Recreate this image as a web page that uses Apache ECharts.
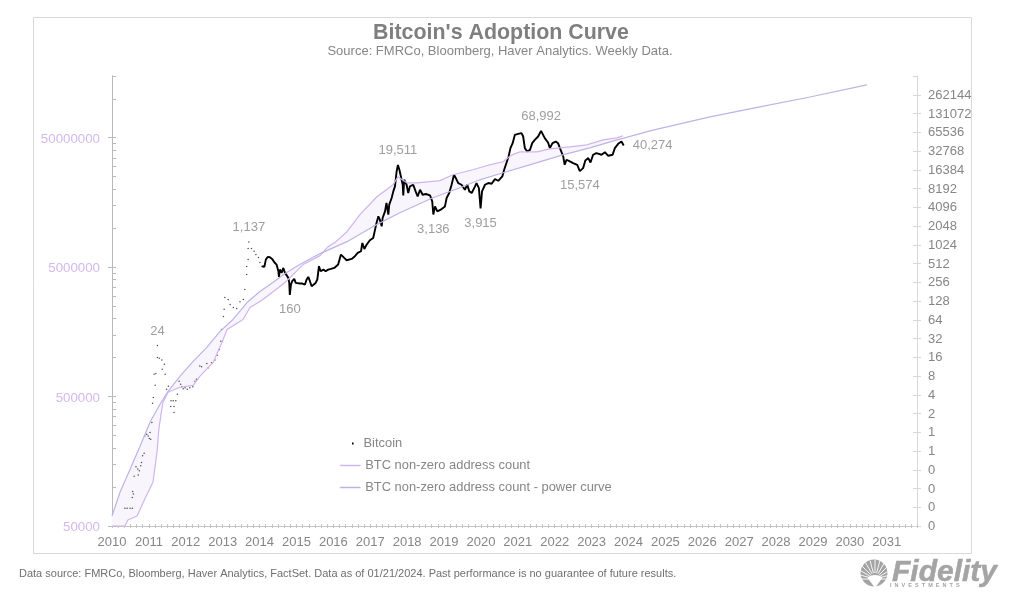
<!DOCTYPE html>
<html>
<head>
<meta charset="utf-8">
<title>Bitcoin's Adoption Curve</title>
<style>
html, body { margin: 0; padding: 0; background: #fff; }
#main { width: 1010px; height: 600px; }
</style>
<script src="https://cdn.jsdelivr.net/npm/echarts@6/dist/echarts.min.js"></script>
</head>
<body>
<div id="main"></div>
<script>
// values: [decimal year on the drawn axis, value]
var powerCurve = [[2010.00,59700],[2010.22,91500],[2010.49,137500],[2010.76,207000],[2011.03,317000],[2011.30,436000],[2011.52,549000],[2011.84,717000],[2012.20,935000],[2012.57,1200000],[2012.93,1594000],[2013.28,1972000],[2013.66,2666000],[2014.01,3243000],[2014.36,3803000],[2014.69,4465000],[2015.09,5236000],[2015.64,6367000],[2016.37,7870000],[2017.07,10280000],[2017.80,13180000],[2018.70,17200000],[2019.43,20560000],[2019.97,23660000],[2020.60,26800000],[2021.41,31450000],[2022.22,36900000],[2022.95,41800000],[2023.69,48200000],[2023.85,49400000],[2024.58,56500000],[2025.39,64000000],[2026.21,72400000],[2027.56,86500000],[2028.92,103300000],[2030.46,127900000]];

var addressCount = [[2010.00,50000],[2010.35,50000],[2010.43,55600],[2010.68,59700],[2010.89,80800],[2011.11,109000],[2011.22,186000],[2011.27,280000],[2011.38,452000],[2011.52,540000],[2011.84,590000],[2012.20,611000],[2012.38,717000],[2012.74,919000],[2012.98,1311000],[2013.12,1652000],[2013.55,1972000],[2013.74,2438000],[2014.01,2716000],[2014.20,2965000],[2014.69,3803000],[2015.18,5236000],[2015.64,6140000],[2015.83,7080000],[2016.04,7740000],[2016.37,9400000],[2016.72,12730000],[2017.18,17500000],[2017.62,21700000],[2017.75,25000000],[2018.00,22400000],[2018.27,22400000],[2018.89,23300000],[2019.24,25900000],[2019.78,28300000],[2020.24,30900000],[2020.60,32600000],[2020.84,36900000],[2021.06,38900000],[2021.52,38900000],[2021.87,41000000],[2022.41,42500000],[2022.87,44000000],[2023.31,48200000],[2023.69,49900000],[2023.85,51800000]];

var btcDots = [[2010.35,0.06],[2010.41,0.06],[2010.49,0.06],[2010.55,0.06],[2010.55,0.09],[2010.56,0.112],[2010.58,0.102],[2010.60,0.196],[2010.65,0.279],[2010.70,0.256],[2010.71,0.205],[2010.74,0.24],[2010.78,0.289],[2010.80,0.328],[2010.83,0.418],[2010.87,0.462],[2010.89,0.874],[2010.94,0.93],[2010.98,0.874],[2011.01,0.794],[2011.03,0.99],[2011.05,0.774],[2011.08,1.43],[2011.10,2.92],[2011.12,3.6],[2011.14,8.5],[2011.17,5.67],[2011.19,8.8],[2011.23,24.8],[2011.23,15.8],[2011.28,15.4],[2011.35,14.4],[2011.36,10.3],[2011.42,12.3],[2011.44,8.5],[2011.48,4.9],[2011.53,5.5],[2011.59,2.6],[2011.60,3.2],[2011.66,3.2],[2011.68,2.6],[2011.68,2.07],[2011.73,3.2],[2011.77,4.08],[2011.82,6.6],[2011.86,5.9],[2011.89,5.4],[2011.93,5.0],[2011.98,5.2],[2012.04,4.9],[2012.11,5.2],[2012.19,5.4],[2012.25,6.6],[2012.29,7.1],[2012.38,11.6],[2012.43,11.3],[2012.57,12.7],[2012.61,10.9],[2012.70,13.1],[2012.79,14.4],[2012.85,17.2],[2012.91,21.4],[2012.95,29],[2012.97,44.6],[2013.02,72],[2013.04,94],[2013.06,146],[2013.15,135],[2013.20,112],[2013.29,101],[2013.38,97],[2013.47,125],[2013.56,135],[2013.60,195],[2013.65,340],[2013.65,458],[2013.69,592],[2013.69,891],[2013.71,1137],[2013.78,891],[2013.85,803],[2013.90,714],[2013.97,639],[2014.01,530],[2014.06,458]];

var btcLine = [[2014.07,463],[2014.13,452],[2014.17,592],[2014.22,653],[2014.28,645],[2014.34,607],[2014.40,536],[2014.46,492],[2014.51,385],[2014.525,312],[2014.55,409],[2014.60,362],[2014.64,435],[2014.69,362],[2014.73,385],[2014.78,301],[2014.805,250],[2014.82,160],[2014.85,235],[2014.885,266],[2014.94,290],[2014.98,250],[2015.03,256],[2015.095,244],[2015.16,244],[2015.23,235],[2015.275,283],[2015.32,312],[2015.365,266],[2015.41,221],[2015.455,235],[2015.52,250],[2015.565,283],[2015.61,463],[2015.655,385],[2015.73,409],[2015.79,385],[2015.86,409],[2015.935,419],[2016.025,435],[2016.13,492],[2016.205,712],[2016.25,757],[2016.295,630],[2016.36,578],[2016.405,578],[2016.495,607],[2016.585,670],[2016.66,757],[2016.75,805],[2016.785,1095],[2016.84,877],[2016.90,1024],[2016.945,992],[2016.99,1208],[2017.08,1317],[2017.13,1790],[2017.17,2290],[2017.22,2929],[2017.26,2590],[2017.31,2025],[2017.335,2753],[2017.40,3522],[2017.44,4791],[2017.49,3115],[2017.515,4505],[2017.58,5760],[2017.625,7368],[2017.67,8860],[2017.715,15400],[2017.75,19511],[2017.79,16380],[2017.82,13630],[2017.85,11330],[2017.88,9410],[2017.895,6350],[2017.92,11330],[2017.985,9410],[2018.03,6930],[2018.075,8860],[2018.165,9410],[2018.23,7368],[2018.285,6120],[2018.35,7830],[2018.42,6510],[2018.51,6680],[2018.62,6350],[2018.68,5090],[2018.71,3136],[2018.755,4230],[2018.82,3522],[2018.91,3740],[2019.025,4230],[2019.07,5760],[2019.14,6930],[2019.205,9410],[2019.27,13630],[2019.32,12040],[2019.385,10020],[2019.475,9410],[2019.565,7830],[2019.63,9410],[2019.685,7368],[2019.75,6930],[2019.84,8860],[2019.88,10020],[2019.945,8320],[2019.99,3915],[2020.03,7360],[2020.11,9410],[2020.20,10020],[2020.29,9770],[2020.38,11600],[2020.47,10900],[2020.58,12800],[2020.63,16380],[2020.69,20950],[2020.75,26780],[2020.80,36400],[2020.86,43800],[2020.92,59600],[2021.01,61800],[2021.10,63300],[2021.145,56000],[2021.19,36400],[2021.255,32200],[2021.33,34200],[2021.39,43800],[2021.46,49500],[2021.55,56000],[2021.63,68992],[2021.67,67400],[2021.73,52700],[2021.82,44900],[2021.87,36400],[2021.94,43800],[2022.03,46500],[2022.09,43800],[2022.16,34200],[2022.23,26780],[2022.27,19700],[2022.32,23700],[2022.41,22300],[2022.50,20950],[2022.61,19700],[2022.68,15574],[2022.77,17400],[2022.83,23100],[2022.91,25200],[2022.97,21450],[2023.04,28500],[2023.13,30300],[2023.27,28500],[2023.36,31400],[2023.45,27450],[2023.57,28500],[2023.63,36400],[2023.72,42700],[2023.81,46500],[2023.87,40274]];

var peakYears = [2011.23, 2013.71, 2014.82, 2017.75, 2018.71, 2019.99, 2021.63, 2022.68, 2023.87];
var peakPrices = [24, 1137, 160, 19511, 3136, 3915, 68992, 15574, 40274];
var peakSides = ['top', 'top', 'bottom', 'top', 'bottom', 'bottom', 'top', 'bottom', 'right'];

var addressLabels = [50000, 500000, 5000000, 50000000];
var addressTicks = [];
addressLabels.forEach(function (base) {
    for (var k = 1; k <= 10; k++) {
        if (base * k <= 150000000) addressTicks.push(base * k);
    }
});

var FONT = 'Liberation Sans';
var GREY = '#868686';
var LILAC_LABEL = '#d3b9ec';
var ADDRESS_COLOR = '#d0b4ee';
var POWER_COLOR = '#bfb2e6';
var LOGO_GREY = '#a4a4a4';

function addressAxis(inside) {
    return {
        type: 'log', logBase: 10, min: 50000, max: 150000000, position: 'left',
        splitLine: { show: false },
        axisLine: { show: true, onZero: false, lineStyle: { color: '#b9b9b9', width: 1 } },
        axisTick: {
            show: true, inside: inside, length: 4,
            customValues: inside ? addressTicks : addressLabels,
            lineStyle: { color: '#b9b9b9' }
        },
        axisLabel: {
            show: !inside, customValues: addressLabels, margin: 12,
            verticalAlign: 'top', lineHeight: 3,
            color: LILAC_LABEL, fontFamily: FONT, fontSize: 13.3,
            formatter: function (v) { return String(Math.round(v)); }
        }
    };
}

function priceAxis(inside) {
    return {
        type: 'log', logBase: 2, min: 0.03125, max: 524288, interval: 1, position: 'right',
        splitLine: { show: false },
        axisLine: { show: true, onZero: false, lineStyle: { color: '#d8d8d8', width: 1 } },
        axisTick: { show: true, inside: inside, length: 4, lineStyle: { color: '#d8d8d8' } },
        axisLabel: {
            show: !inside, margin: 11, showMaxLabel: false,
            verticalAlign: 'top', lineHeight: 1,
            color: GREY, fontFamily: FONT, fontSize: 13,
            formatter: function (v) { return String(Math.round(v)); }
        }
    };
}

function yearAxis(inside) {
    return {
        type: 'value', min: 2010, max: 2031.82, interval: 1, position: 'bottom',
        splitLine: { show: false },
        axisLine: { show: true, onZero: false, lineStyle: { color: '#c4c4c4' } },
        axisTick: { show: true, inside: inside, length: 2, lineStyle: { color: '#c4c4c4' } },
        minorTick: { show: true, splitNumber: 6, length: 2, lineStyle: { color: '#c4c4c4' } },
        axisLabel: {
            show: !inside, margin: 10, showMaxLabel: false,
            color: GREY, fontFamily: FONT, fontSize: 13,
            formatter: function (v) { return String(v); }
        }
    };
}

function renderBand(params, api) {
    if (params.dataIndex !== 0) return;
    var lastYear = addressCount[addressCount.length - 1][0];
    var upper = powerCurve.filter(function (d) { return d[0] <= lastYear; });
    var outline = upper.concat(addressCount.slice().reverse());
    return {
        type: 'polygon',
        shape: { points: outline.map(function (d) { return api.coord(d); }) },
        style: { fill: '#f8f6fc', stroke: null }
    };
}

// logo: grey disc with white rays fanning out from the foot of it
var logoRays = [];
for (var a = 0; a < 13; a++) {
    var t = Math.PI * (1.0 + a / 12);
    logoRays.push({
        type: 'line',
        shape: { x1: 875 + 6 * Math.cos(t), y1: 579 + 6 * Math.sin(t), x2: 875 + 19 * Math.cos(t), y2: 579 + 19 * Math.sin(t) },
        style: { stroke: '#fff', lineWidth: 0.9 }
    });
}

var myChart = echarts.init(document.getElementById('main'));
var option = {
    animation: false,
    backgroundColor: '#fff',
    textStyle: { fontFamily: FONT },
    title: [
        { text: "Bitcoin's Adoption Curve", left: 496, top: 18, textAlign: 'center',
          textStyle: { color: '#7f7f7f', fontFamily: FONT, fontSize: 21.4, fontWeight: 'bold' } },
        { text: 'Source: FMRCo, Bloomberg, Haver Analytics. Weekly Data.', left: 495, top: 40, textAlign: 'center',
          textStyle: { color: GREY, fontFamily: FONT, fontSize: 13, fontWeight: 'normal' } },
        { text: 'Data source: FMRCo, Bloomberg, Haver Analytics, FactSet. Data as of 01/21/2024. Past performance is no guarantee of future results.',
          left: 14, top: 563, textStyle: { color: '#6f6f6f', fontFamily: FONT, fontSize: 11, fontWeight: 'normal' } }
    ],
    legend: [
        { data: ['Bitcoin'], left: 346, top: 432, itemWidth: 1.5, itemHeight: 1.5, orient: 'vertical',
          textStyle: { color: GREY, fontFamily: FONT, fontSize: 12.9, padding: [0, 0, 0, 5] } },
        { data: [
              { name: 'BTC non-zero address count', icon: 'rect', itemStyle: { color: ADDRESS_COLOR, borderColor: ADDRESS_COLOR, borderWidth: 0.5 } },
              { name: 'BTC non-zero address count - power curve', icon: 'rect', itemStyle: { color: POWER_COLOR, borderColor: POWER_COLOR, borderWidth: 0.5 } }
          ],
          left: 335, top: 454, itemWidth: 20, itemHeight: 1, itemGap: 9, orient: 'vertical',
          textStyle: { color: GREY, fontFamily: FONT, fontSize: 12.9 } }
    ],
    grid: { left: 112, right: 93, top: 76, bottom: 74 },
    xAxis: [yearAxis(false), yearAxis(true)],
    yAxis: [addressAxis(false), priceAxis(false), addressAxis(true), priceAxis(true)],
    series: [
        { type: 'custom', xAxisIndex: 0, yAxisIndex: 0, z: 1, silent: true,
          renderItem: renderBand, data: [[2010, 50000]] },
        { name: 'Bitcoin', type: 'line', xAxisIndex: 0, yAxisIndex: 1, z: 2, symbol: 'none',
          lineStyle: { color: '#000', width: 1.9, join: 'bevel' }, itemStyle: { color: '#000' }, data: btcLine },
        { name: 'Bitcoin', type: 'scatter', xAxisIndex: 0, yAxisIndex: 1, z: 2, symbolSize: 1.5,
          itemStyle: { color: '#222' }, data: btcDots },
        { name: 'BTC non-zero address count', type: 'line', xAxisIndex: 0, yAxisIndex: 0, z: 3, symbol: 'none',
          lineStyle: { color: ADDRESS_COLOR, width: 1.2 }, itemStyle: { color: ADDRESS_COLOR }, data: addressCount },
        { name: 'BTC non-zero address count - power curve', type: 'line', xAxisIndex: 0, yAxisIndex: 0, z: 3, symbol: 'none',
          lineStyle: { color: POWER_COLOR, width: 1.2 }, itemStyle: { color: POWER_COLOR }, data: powerCurve },
        { type: 'scatter', xAxisIndex: 0, yAxisIndex: 1, z: 4, symbolSize: 0, silent: true,
          data: peakYears.map(function (year, i) {
              return {
                  value: [year, peakPrices[i]],
                  label: {
                      show: true, position: peakSides[i], distance: peakSides[i] === 'right' ? 9 : 8,
                      color: GREY, fontFamily: FONT, fontSize: 13,
                      formatter: peakPrices[i].toLocaleString('en-US')
                  }
              };
          }) }
    ],
    graphic: [
        { type: 'rect', shape: { x: 33.5, y: 17.5, width: 938, height: 536 }, z: -1,
          style: { fill: 'none', stroke: '#d9d9d9', lineWidth: 1 } },
        { type: 'group', silent: true, children: [
            { type: 'circle', shape: { cx: 874, cy: 573, r: 13.5 }, style: { fill: LOGO_GREY } }
        ].concat(logoRays).concat([
            { type: 'sector', shape: { cx: 875, cy: 588, r: 13, r0: 0, startAngle: Math.PI * 1.3, endAngle: Math.PI * 1.7 }, style: { fill: '#fff' } },
            { type: 'text', style: { x: 892, y: 558, text: 'Fidelity', fill: LOGO_GREY, stroke: LOGO_GREY, lineWidth: 0.5, font: 'italic bold 30px "Liberation Sans"' } },
            { type: 'text', style: { x: 890, y: 582, text: 'I  N  V  E  S  T  M  E  N  T  S', fill: LOGO_GREY, font: 'bold 5.5px "Liberation Sans"' } }
        ]) }
    ]
};
myChart.setOption(option);
</script>
</body>
</html>
